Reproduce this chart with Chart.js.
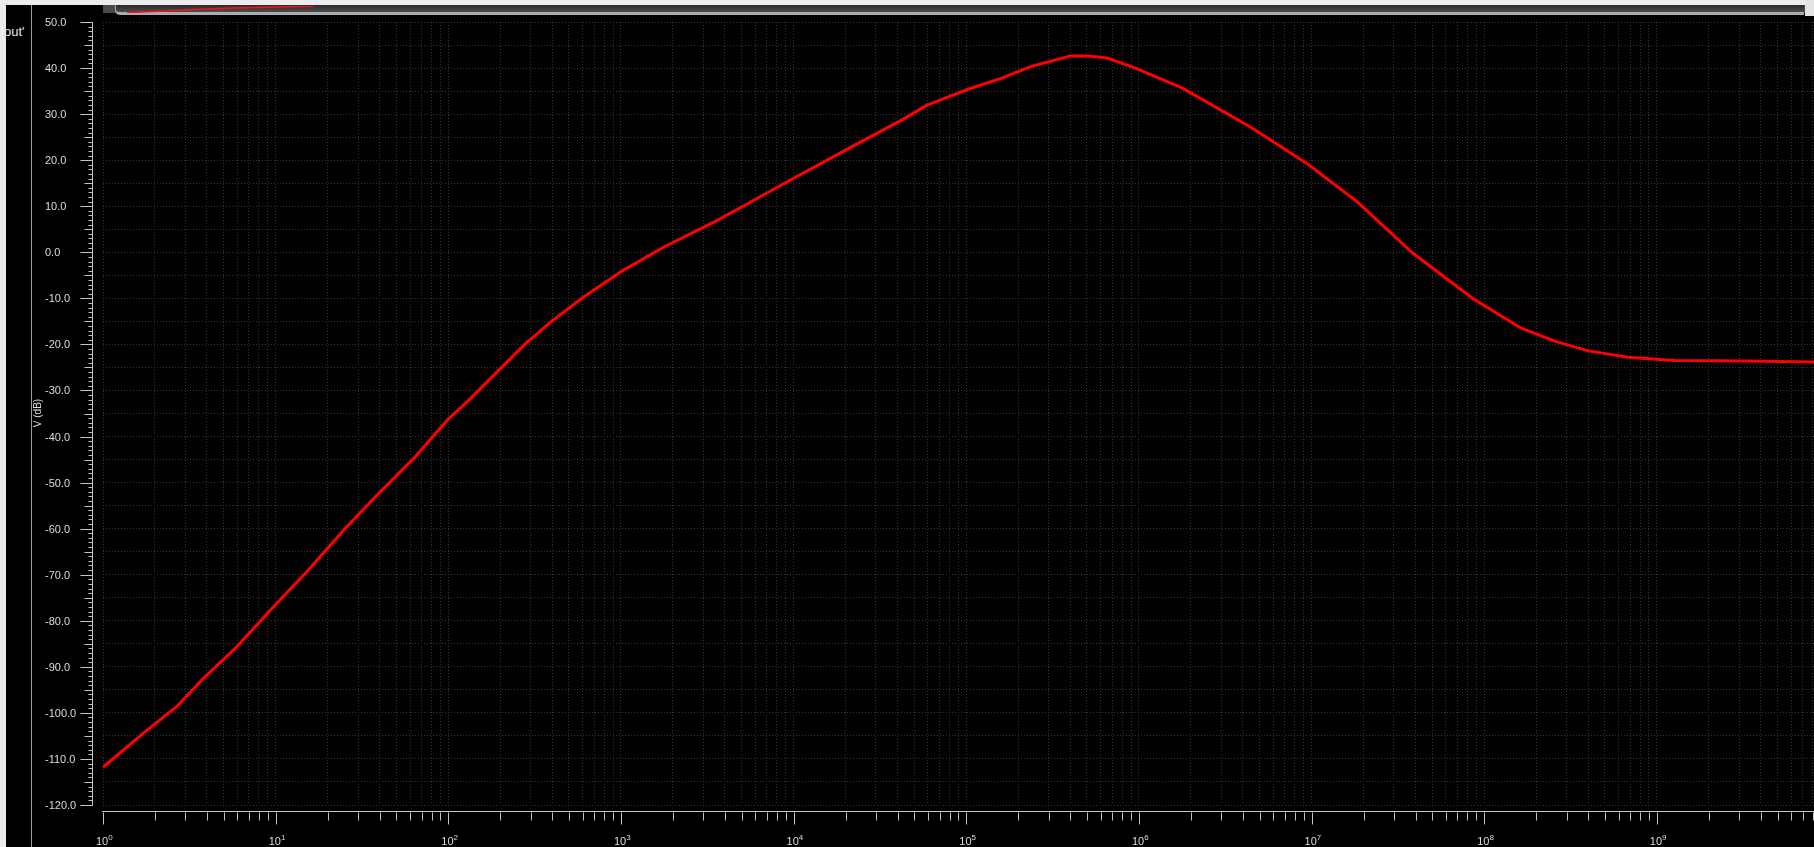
<!DOCTYPE html>
<html>
<head>
<meta charset="utf-8">
<script src="https://cdn.jsdelivr.net/npm/chart.js@4.4.1/dist/chart.umd.min.js"></script>
<style>
  html, body { margin: 0; padding: 0; background: #000; overflow: hidden; }
  #wrap { position: absolute; left: 0; top: 0; width: 1814px; height: 847px; }
  .deco { position: absolute; }
  #leftEdge { left: 0; top: 0; width: 6px; height: 847px; background: #ececec; z-index: 3; }
  #topEdge { left: 0; top: 0; width: 1814px; height: 5px; background: #ececec; z-index: 3; }
  #cornerR { left: 1805px; top: 0; width: 9px; height: 16px; background: #e4e4e4; z-index: 3; }
  #sepLine { left: 31px; top: 5px; width: 1px; height: 842px; background: #9a9a9a; }
  #sigName { left: 4px; top: 24px; font: 13px "Liberation Sans", sans-serif; color: #e6e6e6; }
  #barBack { left: 103px; top: 5px; width: 1711px; height: 8px; background: #4a4a4a; }
  #barThumb { left: 115px; top: 5px; width: 1688px; height: 7px; background: linear-gradient(#2a2a2a, #4c4c4c);
              border-left: 1px solid #a8acb0; border-bottom: 3px solid #a9adb1; border-radius: 0 0 0 5px; }
  #miniWrap { left: 127px; top: 6px; width: 186px; height: 7px; z-index: 2; }
  #bodeWrap { position: absolute; left: 0; top: 0; width: 1814px; height: 847px; z-index: 1; }
</style>
</head>
<body>
<div id="wrap">
  <div class="deco" id="leftEdge"></div>
  <div class="deco" id="topEdge"></div>
  <div class="deco" id="cornerR"></div>
  <div class="deco" id="sepLine"></div>
  <div class="deco" id="sigName">out'</div>
  <div class="deco" id="barBack"></div>
  <div class="deco" id="barThumb"></div>
  <div class="deco" id="miniWrap"><canvas id="mini"></canvas></div>
  <div id="bodeWrap"><canvas id="bode"></canvas></div>
</div>
<script>
// frequency response
const FREQ_HZ = [1, 1.714, 2.679, 3.819, 5.97, 9.75, 15.21, 24.83, 38.73, 63.24, 98.86,
  131.8, 192.8, 275.4, 392.6, 613.8, 1000, 1786, 3648, 8872, 21630, 42270, 58880,
  102300, 160700, 239900, 398100, 512900, 653100, 955000, 1778000, 4426000, 9550000,
  18620000, 38280000, 87100000, 162200000, 261200000, 401800000, 680800000,
  1259000000, 3162000000, 8128000000];
const VOUT_DB = [-111.8, -104.4, -98.6, -92.5, -85.6, -76.9, -69.3, -60.3, -52.7, -44.7, -36.4,
  -32.1, -25.9, -20.1, -15.1, -9.6, -4.2, 1.2, 7.0, 15.0, 22.9, 28.7, 31.9,
  35.4, 37.8, 40.4, 42.6, 42.6, 42.2, 40.0, 35.7, 27.2, 19.1,
  10.8, -0.1, -10.2, -16.4, -19.4, -21.4, -22.8,
  -23.5, -23.6, -23.8];

const DECADES = [0, 1, 2, 3, 4, 5, 6, 7, 8, 9];
const MULTS = [1, 2, 3, 4, 5, 6, 7, 8, 9];
const X_MIN = 1;
const X_MAX = 8.13e9;
const Y_MIN = -120;
const Y_MAX = 50;
const Y_LABEL = 'V (dB)';

const X_TICKS = [];
DECADES.forEach(d => MULTS.forEach(m => {
  const v = m * Math.pow(10, d);
  if (v <= X_MAX) X_TICKS.push(v);
}));

const points = FREQ_HZ.map((f, i) => ({ x: f, y: VOUT_DB[i] }));

const TXT = '#dcdcdc';
const AXIS = '#c4c4c4';

const axisDecor = {
  id: 'axisDecor',
  afterDraw(chart) {
    const { ctx, chartArea: a, scales: { x, y } } = chart;
    ctx.save();
    ctx.strokeStyle = AXIS;
    ctx.lineWidth = 1;

    // y axis
    const ax = Math.round(a.left - 11) + 0.5;
    ctx.beginPath();
    ctx.moveTo(ax, Math.round(y.getPixelForValue(Y_MAX)));
    ctx.lineTo(ax, Math.round(y.getPixelForValue(Y_MIN)) + 1);
    ctx.stroke();
    ctx.font = '11px "Liberation Sans", sans-serif';
    ctx.fillStyle = TXT;
    ctx.textAlign = 'left';
    ctx.textBaseline = 'middle';
    for (let v = Y_MIN; v <= Y_MAX; v++) {
      const py = Math.round(y.getPixelForValue(v)) + 0.5;
      const len = v % 10 === 0 ? 12 : (v % 5 === 0 ? 8 : 4);
      ctx.beginPath();
      ctx.moveTo(ax - len, py);
      ctx.lineTo(ax, py);
      ctx.stroke();
      if (v % 10 === 0) ctx.fillText(v.toFixed(1), 45, py);
    }

    // x axis
    const ay = Math.round(a.bottom + 6) + 0.5;
    ctx.beginPath();
    ctx.moveTo(a.left - 1, ay);
    ctx.lineTo(a.right, ay);
    ctx.stroke();
    X_TICKS.forEach(v => {
      const px = Math.round(x.getPixelForValue(v)) + 0.5;
      const major = DECADES.some(d => Math.pow(10, d) === v);
      ctx.beginPath();
      ctx.moveTo(px, ay + 1);
      ctx.lineTo(px, ay + (major ? 13 : 9));
      ctx.stroke();
    });
    DECADES.forEach(d => {
      const px = x.getPixelForValue(Math.pow(10, d));
      ctx.textBaseline = 'alphabetic';
      ctx.textAlign = 'left';
      ctx.font = '11px "Liberation Sans", sans-serif';
      const w = ctx.measureText('10').width;
      const left = px - 7;
      ctx.fillText('10', left, 845);
      ctx.font = '8px "Liberation Sans", sans-serif';
      ctx.fillText(String(d), left + w, 840);
    });

    // axis title
    ctx.translate(38, 413);
    ctx.rotate(-Math.PI / 2);
    ctx.font = '10px "Liberation Sans", sans-serif';
    ctx.textAlign = 'center';
    ctx.textBaseline = 'middle';
    ctx.fillText(Y_LABEL, 0, 0);
    ctx.restore();
  }
};

const gridOpts = { color: '#363636', lineWidth: 1, drawTicks: false };

new Chart(document.getElementById('bode'), {
  type: 'line',
  data: {
    datasets: [{
      data: points,
      borderColor: '#ff0000',
      borderWidth: 3,
      pointRadius: 0,
      tension: 0,
      fill: false,
      borderJoinStyle: 'round'
    }]
  },
  options: {
    responsive: true,
    maintainAspectRatio: false,
    animation: false,
    layout: { padding: { left: 103, top: 22, right: 0, bottom: 42 } },
    plugins: { legend: { display: false }, tooltip: { enabled: false } },
    scales: {
      x: {
        type: 'logarithmic',
        min: X_MIN,
        max: X_MAX,
        ticks: { display: false },
        grid: gridOpts,
        border: { display: false, dash: [1, 2] },
        afterBuildTicks: s => { s.ticks = X_TICKS.map(v => ({ value: v })); },
        afterFit: s => { s.height = 0; }
      },
      y: {
        type: 'linear',
        min: Y_MIN,
        max: Y_MAX,
        ticks: { display: false, stepSize: 5 },
        grid: gridOpts,
        border: { display: false, dash: [1, 2] },
        afterFit: s => { s.width = 0; }
      }
    }
  },
  plugins: [axisDecor]
});

// small overview trace in the scroll bar
new Chart(document.getElementById('mini'), {
  type: 'line',
  data: { datasets: [{ data: points, borderColor: '#ff1010', borderWidth: 1.5, pointRadius: 0, tension: 0 }] },
  options: {
    responsive: true,
    maintainAspectRatio: false,
    animation: false,
    layout: { padding: 0 },
    plugins: { legend: { display: false }, tooltip: { enabled: false } },
    scales: {
      x: { type: 'logarithmic', min: 1, max: 4e5, display: false },
      y: { min: Y_MIN, max: Y_MAX, display: false }
    }
  }
});
</script>
</body>
</html>
